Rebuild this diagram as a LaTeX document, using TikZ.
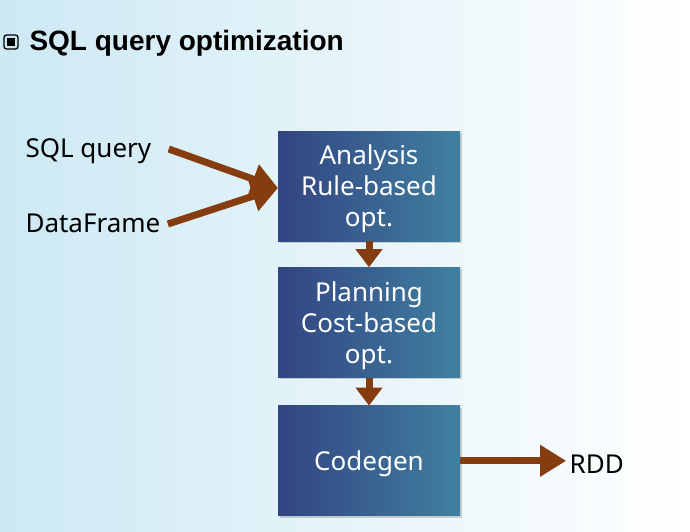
\documentclass[tikz,border=0pt]{standalone}
\usepackage{fontspec}
\setmainfont{Noto Sans}
\newfontfamily\titlefont{Liberation Sans}
\usepackage{tikz}
\usetikzlibrary{positioning,shadows,arrows.meta}

\definecolor{arrowbrown}{RGB}{133,60,15}
\definecolor{boxleft}{RGB}{50,68,130}
\definecolor{boxright}{RGB}{64,128,160}
\definecolor{bgleft}{RGB}{205,233,244}

\begin{document}
\begin{tikzpicture}[x=1pt,y=-1pt,
    stage/.style={shape=rectangle, minimum width=182pt, minimum height=110pt,
      left color=boxleft, right color=boxright, text=white, align=center,
      font=\fontsize{26}{31}\selectfont, text depth=0pt,
      drop shadow={opacity=0.35, shadow xshift=2pt, shadow yshift=-2pt}},
    label/.style={font=\fontsize{26}{31}\selectfont, anchor=west},
    flow/.style={arrowbrown, line width=7pt, -{Triangle[length=26pt,width=30pt]}},
    step down/.style={arrowbrown, line width=7pt, -{Triangle[length=18pt,width=26pt]}}]
  \shade[left color=bgleft, right color=white] (0,0) rectangle (690,532);
  \useasboundingbox (0,0) rectangle (690,532);
  % title
  \node (bullet) [draw, line width=1.3pt, rounded corners=2.5pt, minimum size=14pt,
    inner sep=0pt] at (11,42) {};
  \fill[black] (7,38) rectangle (15,46);
  \node (title) [anchor=west, font=\titlefont\bfseries\fontsize{28}{32}\selectfont]
    at (26,43) {SQL query optimization};
  % stages
  \node (analysis) [stage] at (369,186) {Analysis\\Rule-based\\opt.};
  \node (planning) [stage, below=26pt of analysis] {Planning\\Cost-based\\opt.};
  \node (codegen) [stage, below=28pt of planning] {Codegen};
  % inputs and output
  \node (sql) [label] at (22,151) {SQL query};
  \node (df) [label] at (22,223) {DataFrame};
  \node (rdd) [label, right=106pt of codegen, yshift=-3pt] {RDD};
  \coordinate (join) at (278,188);
  \draw[flow] ([xshift=14pt,yshift=2pt]sql.east) -- (join);
  \draw[flow] ([xshift=4pt,yshift=-1pt]df.east) -- (join);
  \draw[step down] (analysis) -- (planning);
  \draw[step down] (planning) -- (codegen);
  \draw[flow] (codegen) -- (codegen -| rdd.west);
\end{tikzpicture}
\end{document}
